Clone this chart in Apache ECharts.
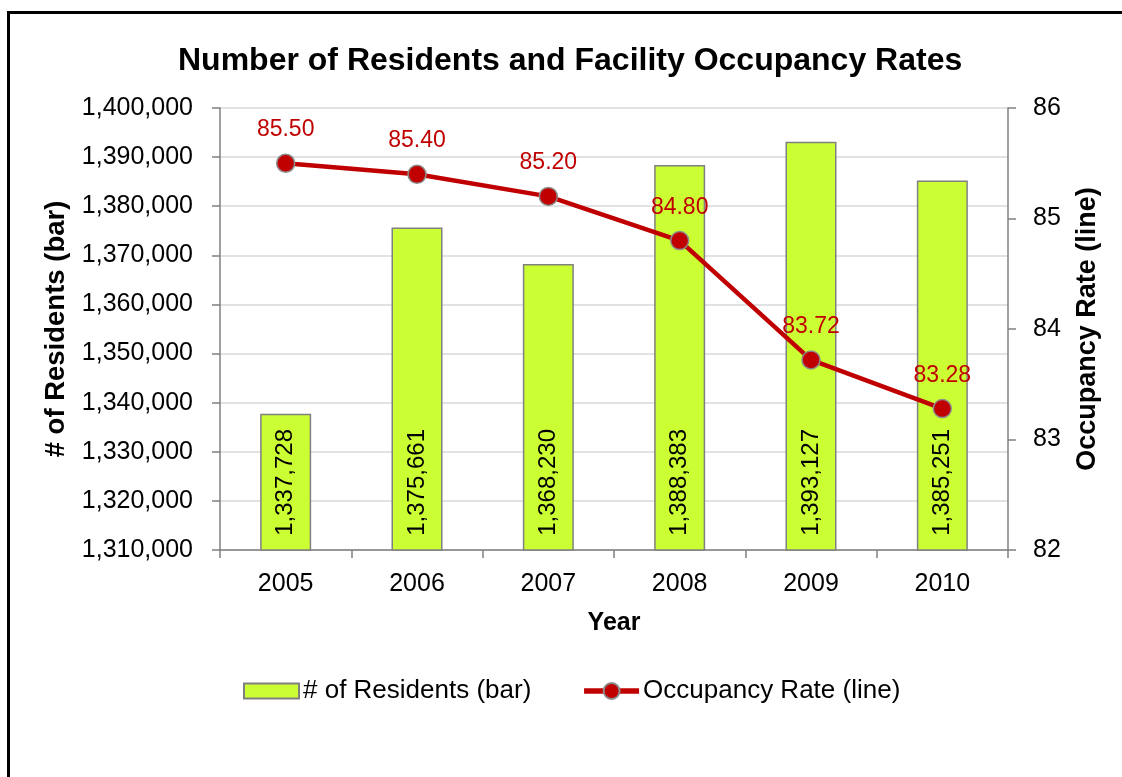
<!DOCTYPE html>
<html>
<head>
<meta charset="utf-8">
<script src="https://cdn.jsdelivr.net/npm/echarts@6/dist/echarts.min.js"></script>
<style>
html,body{margin:0;padding:0;background:#fff;}
#chart{width:1122px;height:777px;}
</style>
</head>
<body>
<div id="chart"></div>
<script>
var years = ['2005', '2006', '2007', '2008', '2009', '2010'];
var residents = [1337728, 1375661, 1368230, 1388383, 1393127, 1385251];
var occupancy = [85.50, 85.40, 85.20, 84.80, 83.72, 83.28];

function commas(v) { return String(Math.round(v)).replace(/\B(?=(\d{3})+(?!\d))/g, ','); }

var FONT = 'Liberation Sans, Arial, sans-serif';
var chart = echarts.init(document.getElementById('chart'), null, {renderer: 'canvas'});
chart.setOption({
  backgroundColor: '#ffffff',
  animation: false,
  textStyle: {fontFamily: FONT},
  graphic: [{
    type: 'rect', z: -1, silent: true,
    shape: {x: 8.5, y: 12.5, width: 1300, height: 1000},
    style: {fill: 'none', stroke: '#000', lineWidth: 3}
  }],
  title: {
    text: 'Number of Residents and Facility Occupancy Rates',
    left: 173, top: 40,
    textStyle: {fontFamily: FONT, fontSize: 32, fontWeight: 'bold', color: '#000'}
  },
  legend: {
    left: 243, top: 678, padding: 0,
    itemWidth: 55, itemHeight: 20, itemGap: 50,
    lineStyle: {width: 5.5},
    textStyle: {fontFamily: FONT, fontSize: 26, color: '#000', padding: [0, 0, 0, -1]},
    data: [
      {name: '# of Residents (bar)', icon: 'path://M0 0H55V15H0Z'},
      {name: 'Occupancy Rate (line)'}
    ]
  },
  grid: {left: 220, right: 114, top: 108, bottom: 227, containLabel: false},
  xAxis: {
    type: 'category', data: years,
    name: 'Year', nameLocation: 'middle', nameGap: 61,
    nameTextStyle: {fontFamily: FONT, fontSize: 25, fontWeight: 'bold', color: '#000'},
    axisLine: {lineStyle: {color: '#808080', width: 1.5}},
    axisTick: {show: true, length: 8, lineStyle: {color: '#808080', width: 1.5}},
    axisLabel: {fontFamily: FONT, fontSize: 25, color: '#000', margin: 22}
  },
  yAxis: [{
    type: 'value', min: 1310000, max: 1400000, interval: 10000,
    name: '# of Residents (bar)', nameLocation: 'middle', nameGap: 137, nameRotate: 90,
    nameTextStyle: {fontFamily: FONT, fontSize: 27.5, fontWeight: 'bold', color: '#000'},
    axisLine: {show: true, lineStyle: {color: '#808080', width: 1.5}},
    axisTick: {show: true, length: 8, lineStyle: {color: '#808080', width: 1.5}},
    axisLabel: {fontFamily: FONT, fontSize: 25, color: '#000', margin: 27, formatter: commas},
    splitLine: {show: true, lineStyle: {color: '#d9d9d9', width: 1.5}}
  }, {
    type: 'value', min: 82, max: 86, interval: 1, position: 'right',
    name: 'Occupancy Rate (line)', nameLocation: 'middle', nameGap: 66, nameRotate: 90,
    nameTextStyle: {fontFamily: FONT, fontSize: 27, fontWeight: 'bold', color: '#000'},
    axisLine: {show: true, lineStyle: {color: '#808080', width: 1.5}},
    axisTick: {show: true, length: 8, lineStyle: {color: '#808080', width: 1.5}},
    axisLabel: {fontFamily: FONT, fontSize: 25, color: '#000', margin: 25},
    splitLine: {show: false}
  }],
  series: [{
    name: '# of Residents (bar)', type: 'bar', data: residents, yAxisIndex: 0,
    barWidth: 51,
    itemStyle: {color: '#CCFF33', borderColor: '#808080', borderWidth: 1.5},
    label: {
      show: true, position: 'insideBottom', rotate: 90, distance: 15,
      align: 'left', verticalAlign: 'middle',
      fontFamily: FONT, fontSize: 24, color: '#000',
      formatter: function (p) { return commas(p.value); }
    }
  }, {
    name: 'Occupancy Rate (line)', type: 'line', data: occupancy, yAxisIndex: 1,
    symbol: 'circle', symbolSize: 18,
    lineStyle: {color: '#C00000', width: 4.5},
    itemStyle: {color: '#C00000', borderColor: '#8c8c8c', borderWidth: 1.5},
    label: {
      show: true, position: 'top', distance: 12,
      fontFamily: FONT, fontSize: 23, color: '#C00000',
      formatter: function (p) { return p.value.toFixed(2); }
    },
    z: 5
  }]
});
</script>
</body>
</html>
